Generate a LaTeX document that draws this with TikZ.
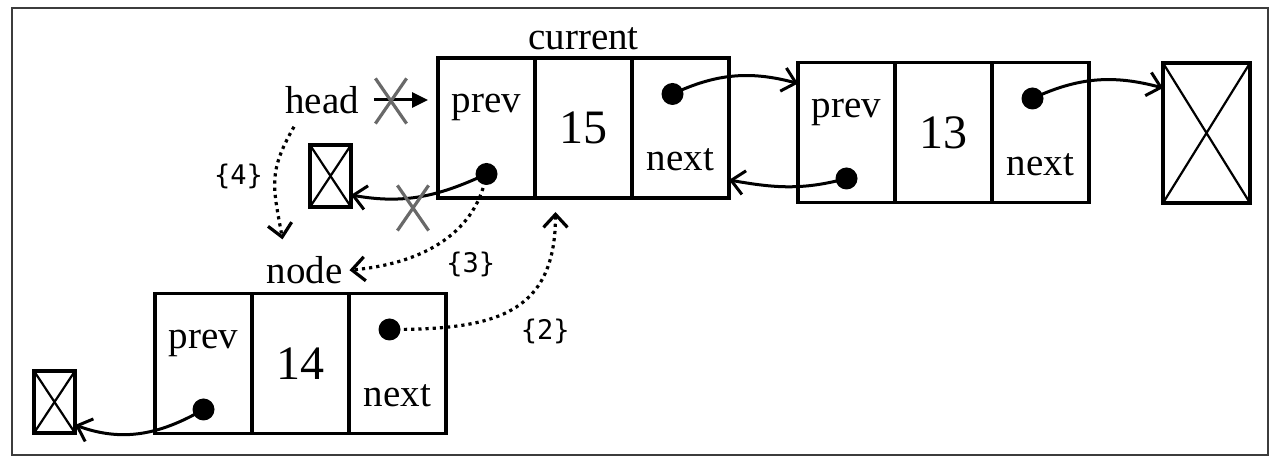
\documentclass[tikz,border=0pt]{standalone}
\usepackage{fontspec}
\setmainfont{Liberation Serif}
\setmonofont{DejaVu Sans Mono}
\usetikzlibrary{arrows.meta,positioning,calc,shapes.misc}
\definecolor{crossgray}{RGB}{105,105,105}
\definecolor{framegray}{RGB}{60,60,60}
\tikzset{
  cell/.style   ={draw, line width=1.6pt, outer sep=0pt, inner sep=0pt,
                  minimum width=48.5pt, minimum height=70pt,
                  font=\fontsize{24}{28}\selectfont},
  nullbox/.style={draw, line width=1.6pt, outer sep=0pt, inner sep=0pt,
                  path picture={\draw[line width=1.1pt]
                    (path picture bounding box.north west)--(path picture bounding box.south east)
                    (path picture bounding box.south west)--(path picture bounding box.north east);}},
  fld/.style    ={font=\fontsize{19.5}{22}\selectfont, inner sep=0pt},
  lbl/.style    ={font=\fontsize{19.5}{22}\selectfont},
  dot/.style    ={circle, fill, inner sep=0pt, minimum size=11pt},
  ptr/.style    ={-{Straight Barb[length=6.5pt,width=12pt]}, line width=1.5pt},
  dptr/.style   ={ptr, line width=1.6pt, dotted},
  idx/.style    ={font=\ttfamily\fontsize{13.5}{15}\selectfont},
  cut/.style    ={draw=crossgray, cross out, line width=1.6pt, inner sep=0pt,
                  minimum width=14pt, minimum height=21pt},
}
\begin{document}
\begin{tikzpicture}[x=0.5pt,y=0.5pt]
  \useasboundingbox (0,0) rectangle (1280,465);
  \draw[framegray, line width=1pt] (12,10) rectangle (1268,457);

  % list cells
  \node[cell, anchor=west] (cp) at (438,337) {};
  \node[cell, right=0pt of cp] (cv) {15};
  \node[cell, right=0pt of cv] (cn) {};

  \node[cell, anchor=west] (np) at (798,332.5) {};
  \node[cell, right=0pt of np] (nv) {13};
  \node[cell, right=0pt of nv] (nn) {};

  \node[cell, anchor=west] (lp) at (155,101.5) {};
  \node[cell, right=0pt of lp] (lv) {14};
  \node[cell, right=0pt of lv] (ln) {};

  \foreach \c in {cp,np,lp}{
    \node[fld, anchor=base] (\c-txt) at ([yshift=-27.5pt]\c.north) {prev};
    \node[dot] (\c-dot) at ([yshift=12pt]\c.south) {};
  }
  \foreach \c in {cn,nn,ln}{
    \node[fld, anchor=base] (\c-txt) at ([yshift=13.5pt]\c.south) {next};
    \node[dot] (\c-dot) at ([xshift=-4pt,yshift=-18pt]\c.north) {};
  }

  % null ends
  \node[nullbox, minimum width=43.5pt, minimum height=70pt] (nulR) at (1206.5,332) {};
  \node[nullbox, minimum width=20.5pt, minimum height=31pt] (nulH) at (330.5,289) {};
  \node[nullbox, minimum width=20.5pt, minimum height=31pt] (nulL) at (54.5,63) {};

  \node[lbl] (head) at (322,365) {head};
  \node[lbl, anchor=base] (curlbl) at ([yshift=4pt]cv.north) {current};
  \node[lbl, anchor=base] (nodelbl) at ([xshift=2pt,yshift=5pt]lv.north) {node};

  % pointers
  \draw[ptr] (cn-dot.center) to[out=25,in=165] ([yshift=-10.5pt]np.north west);
  \draw[ptr] (np-dot.center) to[out=195,in=-10] ([yshift=9pt]cn.south east);
  \draw[ptr] (nn-dot.center) to[out=25,in=165] ([yshift=-12.5pt]nulR.north west);
  \draw[ptr] (cp-dot.center) to[out=205,in=-10] ([yshift=6pt]nulH.south east);
  \draw[ptr] (lp-dot.center) to[out=210,in=-20] ([yshift=4pt]nulL.south east);
  \draw[-{Triangle[length=8pt,width=7.5pt]}, line width=1.5pt, shorten <=4pt, shorten >=5pt]
    (head.east) -- (head.east -| cp.west);

  \node[cut] (xhead) at (391,364) {};
  \node[cut] (xprev) at (413,257) {};

  % insertion steps
  \draw[dptr] (ln-dot.center) to[out=0,in=-90,looseness=1.3]
    node[idx, pos=0.5, below right=1pt] (s2) {\{2\}} ([xshift=-14pt,yshift=-7pt]cv.south);
  \draw[dptr] (cp-dot.center) to[out=-100,in=5]
    node[idx, pos=0.5, below right] (s3) {\{3\}} (nodelbl.east);
  \draw[dptr] ([xshift=-14pt,yshift=-3pt]head.south) to[out=-120,in=100,looseness=1.2]
    node[idx, pos=0.45, left=2pt] (s4) {\{4\}} ([xshift=-11pt,yshift=5pt]nodelbl.north);
\end{tikzpicture}
\end{document}
